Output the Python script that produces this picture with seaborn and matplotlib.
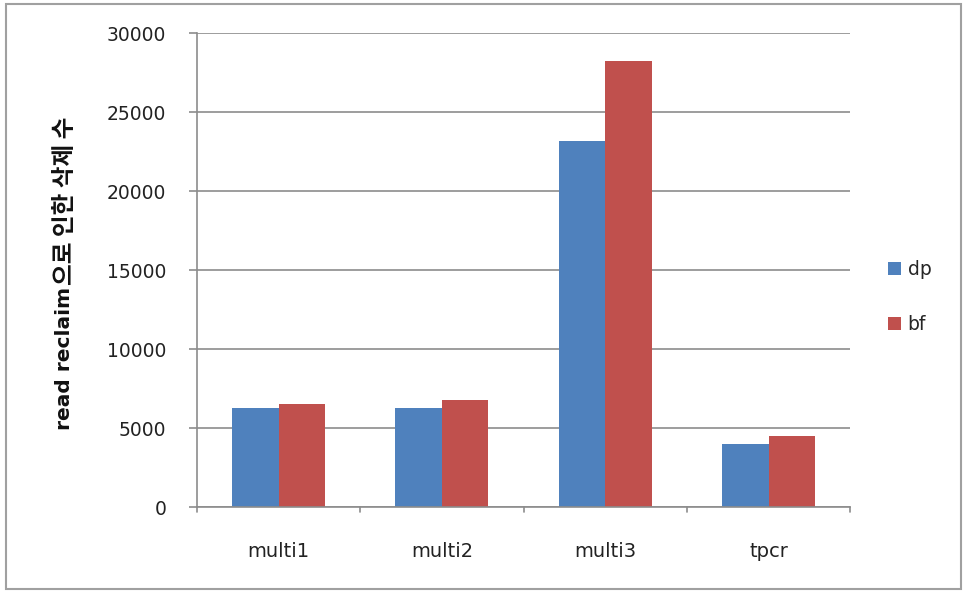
import matplotlib
matplotlib.use("Agg")
import matplotlib.pyplot as plt
from matplotlib.patches import Rectangle
import seaborn as sns
import pandas as pd

categories = ["multi1", "multi2", "multi3", "tpcr"]
dp_values = [6300, 6300, 23150, 4000]
bf_values = [6550, 6800, 28250, 4500]
series_names = ["dp", "bf"]
y_ticks = [0, 5000, 10000, 15000, 20000, 25000, 30000]
ylabel_latin = "read reclaim"
ylabel_korean = "으로 인한 삭제 수"

df = pd.DataFrame({
    "case": categories * 2,
    "series": [series_names[0]] * len(categories) + [series_names[1]] * len(categories),
    "count": dp_values + bf_values,
})

sns.set_theme(style="white")
plt.rcParams["font.family"] = ["DejaVu Sans", "Noto Sans CJK KR"]

W, H = 965, 593
fig = plt.figure(figsize=(W / 100, H / 100), dpi=100)
ax = fig.add_axes([0.204, 0.145, 0.677, 0.799])

palette = {"dp": "#4F81BD", "bf": "#C0504D"}
sns.barplot(data=df, x="case", y="count", hue="series", palette=palette,
            width=0.57, gap=0, saturation=1, linewidth=0, ax=ax, legend=True)

grey = "#8C8C8C"
ax.set_ylim(0, 30000)
ax.set_xlim(-0.5, len(categories) - 0.5)
ax.set_yticks(y_ticks)
ax.set_yticklabels([str(t) for t in y_ticks], fontsize=13.5, color="#222222")
ax.yaxis.grid(True, color=grey, linewidth=1.2)
ax.set_axisbelow(True)

# category labels centred, tick marks at category boundaries
ax.set_xticks(range(len(categories)))
ax.set_xticklabels(categories, fontsize=14, color="#222222")
ax.tick_params(axis="x", length=0, pad=25)
for b in [i - 0.5 for i in range(len(categories) + 1)]:
    ax.plot([b, b], [0, -0.011], transform=ax.get_xaxis_transform(),
            color=grey, linewidth=1.2, clip_on=False)
ax.tick_params(axis="y", length=6, width=1.2, color=grey, left=True, pad=16)

for side in ["top", "right"]:
    ax.spines[side].set_visible(False)
for side in ["left", "bottom"]:
    ax.spines[side].set_color(grey)
    ax.spines[side].set_linewidth(1.2)

ax.set_xlabel("")
ax.set_ylabel("")

# vertical axis title built from a Latin part and a Korean part
x_title = 64 / W
t_lat = fig.text(x_title, 0, ylabel_latin, rotation=90, ha="center", va="bottom",
                 fontsize=14.5, fontweight="bold", color="#111111",
                 family=["DejaVu Sans", "Noto Sans CJK KR"])
t_kor = fig.text(x_title + 1 / W, 0, ylabel_korean, rotation=90, ha="center", va="bottom",
                 fontsize=17, fontweight="bold", color="#111111",
                 family=["Noto Sans CJK KR", "DejaVu Sans"])
fig.canvas.draw()
r = fig.canvas.get_renderer()
h_lat = t_lat.get_window_extent(r).height
h_kor = t_kor.get_window_extent(r).height
gap = 2
center = (H - 273)
y0 = center - (h_lat + h_kor + gap) / 2
t_lat.set_y(y0 / H)
t_kor.set_y((y0 + h_lat + gap) / H)

handles, labels = ax.get_legend_handles_labels()
ax.legend(handles, labels, loc="center left", bbox_to_anchor=(1.032, 0.443),
          frameon=False, fontsize=13.5, handlelength=0.7, handleheight=0.7,
          labelspacing=1.9, handletextpad=0.35)

# outer chart frame
fig.patches.append(Rectangle((0.006, 0.006), 0.99, 0.988, transform=fig.transFigure,
                             fill=False, edgecolor="#A0A0A0", linewidth=1.5))

fig.savefig("out.png", dpi=100)
